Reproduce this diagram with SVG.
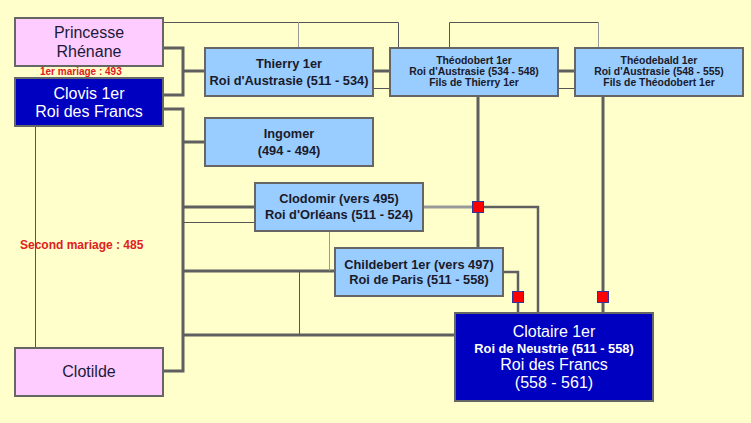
<svg xmlns="http://www.w3.org/2000/svg" width="751" height="423" viewBox="0 0 751 423">
<style>
.bg{fill:#FFFFCC}
.pink{fill:#FFCCFF;stroke:#666;stroke-width:2}
.dark{fill:#0000C0;stroke:#666;stroke-width:2}
.light{fill:#99CCFF;stroke:#666;stroke-width:2}
.thick{fill:none;stroke:#5f5f5f;stroke-width:3}
.thin{fill:none;stroke:#555;stroke-width:1}
.pale{fill:none;stroke:#999;stroke-width:1}
.paleThick{fill:none;stroke:#999;stroke-width:3}
.mark{fill:#FF0000;stroke:#333399;stroke-width:1}
text{font-family:"Liberation Sans",Arial,sans-serif;text-anchor:middle}
.big{font-size:16px;fill:#1a1a3a}
.bigw{font-size:16px;fill:#fff}
.b12{font-size:12.8px;font-weight:bold;fill:#1a1a2a}
.b12w{font-size:12.8px;font-weight:bold;fill:#fff}
.b10{font-size:10.4px;font-weight:bold;fill:#1a1a2a}
.red{fill:#E02020;font-weight:bold;text-anchor:start}
</style>
<rect class="bg" x="0" y="0" width="751" height="423"/>
<g id="connectors">
<polyline class="thin" points="163,22.500 398.500,22.500 398.500,48"/>
<line class="pale" x1="298.500" y1="22" x2="298.500" y2="48"/>
<polyline class="thin" points="449.500,48 449.500,22.500 598.500,22.500"/>
<line class="pale" x1="598.500" y1="22" x2="598.500" y2="48"/>
<line class="thin" x1="35.500" y1="126" x2="35.500" y2="348"/>
<polyline class="thick" points="163,48 183,48 183,95 163,95"/>
<line class="thick" x1="183" y1="71" x2="205" y2="71"/>
<polyline class="thick" points="163,109 183,109 183,371 163,371"/>
<line class="thick" x1="183" y1="142" x2="205" y2="142"/>
<line class="thick" x1="183" y1="207" x2="255" y2="207"/>
<line class="thin" x1="183" y1="222.500" x2="255" y2="222.500"/>
<line class="thick" x1="183" y1="271" x2="335" y2="271"/>
<line class="pale" x1="329.500" y1="231" x2="329.500" y2="271"/>
<line class="thin" x1="299.500" y1="271" x2="299.500" y2="335"/>
<line class="thick" x1="183" y1="335" x2="455" y2="335"/>
<line class="thick" x1="373" y1="71" x2="390" y2="71"/>
<line class="thin" x1="373" y1="88.500" x2="390" y2="88.500"/>
<line class="thick" x1="558" y1="71" x2="575" y2="71"/>
<line class="thin" x1="558" y1="88.500" x2="575" y2="88.500"/>
<line class="thick" x1="478" y1="97" x2="478" y2="248"/>
<line class="paleThick" x1="423" y1="207" x2="478" y2="207"/>
<polyline class="thick" points="478,207 538,207 538,313" style="stroke-width:2.5"/>
<polyline class="thick" points="503,272 518,272 518,313" style="stroke-width:2.5"/>
<line class="thick" x1="603" y1="97" x2="603" y2="313"/>
<rect class="mark" x="472.500" y="201.500" width="11" height="11"/>
<rect class="mark" x="512.500" y="291.500" width="11" height="11"/>
<rect class="mark" x="597.500" y="291.500" width="11" height="11"/>
</g>
<g id="princesse">
<rect class="pink" x="15" y="18" width="148" height="48"/>
<text class="big" x="89" y="38">Princesse</text>
<text class="big" x="89" y="57">Rhénane</text>
</g>
<text class="red" x="40" y="75" font-size="10">1er mariage : 493</text>
<g id="clovis">
<rect class="dark" x="15" y="78" width="148" height="48"/>
<text class="bigw" x="89" y="99">Clovis 1er</text>
<text class="bigw" x="89" y="117">Roi des Francs</text>
</g>
<text class="red" x="20" y="249" font-size="12">Second mariage : 485</text>
<g id="clotilde">
<rect class="pink" x="15" y="348" width="148" height="48"/>
<text class="big" x="89" y="377">Clotilde</text>
</g>
<g id="thierry">
<rect class="light" x="205" y="48" width="168" height="48"/>
<text class="b12" x="289" y="68">Thierry 1er</text>
<text class="b12" x="289" y="85">Roi d'Austrasie (511 - 534)</text>
</g>
<g id="theodobert">
<rect class="light" x="390" y="48" width="168" height="48"/>
<text class="b10" x="474" y="64">Théodobert 1er</text>
<text class="b10" x="474" y="75">Roi d'Austrasie (534 - 548)</text>
<text class="b10" x="474" y="86">Fils de Thierry 1er</text>
</g>
<g id="theodebald">
<rect class="light" x="575" y="48" width="168" height="48"/>
<text class="b10" x="659" y="64">Théodebald 1er</text>
<text class="b10" x="659" y="75">Roi d'Austrasie (548 - 555)</text>
<text class="b10" x="659" y="86">Fils de Théodobert 1er</text>
</g>
<g id="ingomer">
<rect class="light" x="205" y="118" width="168" height="48"/>
<text class="b12" x="289" y="138">Ingomer</text>
<text class="b12" x="289" y="155">(494 - 494)</text>
</g>
<g id="clodomir">
<rect class="light" x="255" y="183" width="168" height="48"/>
<text class="b12" x="339" y="203">Clodomir (vers 495)</text>
<text class="b12" x="339" y="219">Roi d'Orléans (511 - 524)</text>
</g>
<g id="childebert">
<rect class="light" x="335" y="248" width="168" height="48"/>
<text class="b12" x="419" y="269">Childebert 1er (vers 497)</text>
<text class="b12" x="419" y="284">Roi de Paris (511 - 558)</text>
</g>
<g id="clotaire">
<rect class="dark" x="455" y="313" width="198" height="88"/>
<text class="bigw" x="554" y="337">Clotaire 1er</text>
<text class="b12w" x="554" y="353">Roi de Neustrie (511 - 558)</text>
<text class="bigw" x="554" y="370">Roi des Francs</text>
<text class="bigw" x="554" y="388">(558 - 561)</text>
</g>
</svg>
